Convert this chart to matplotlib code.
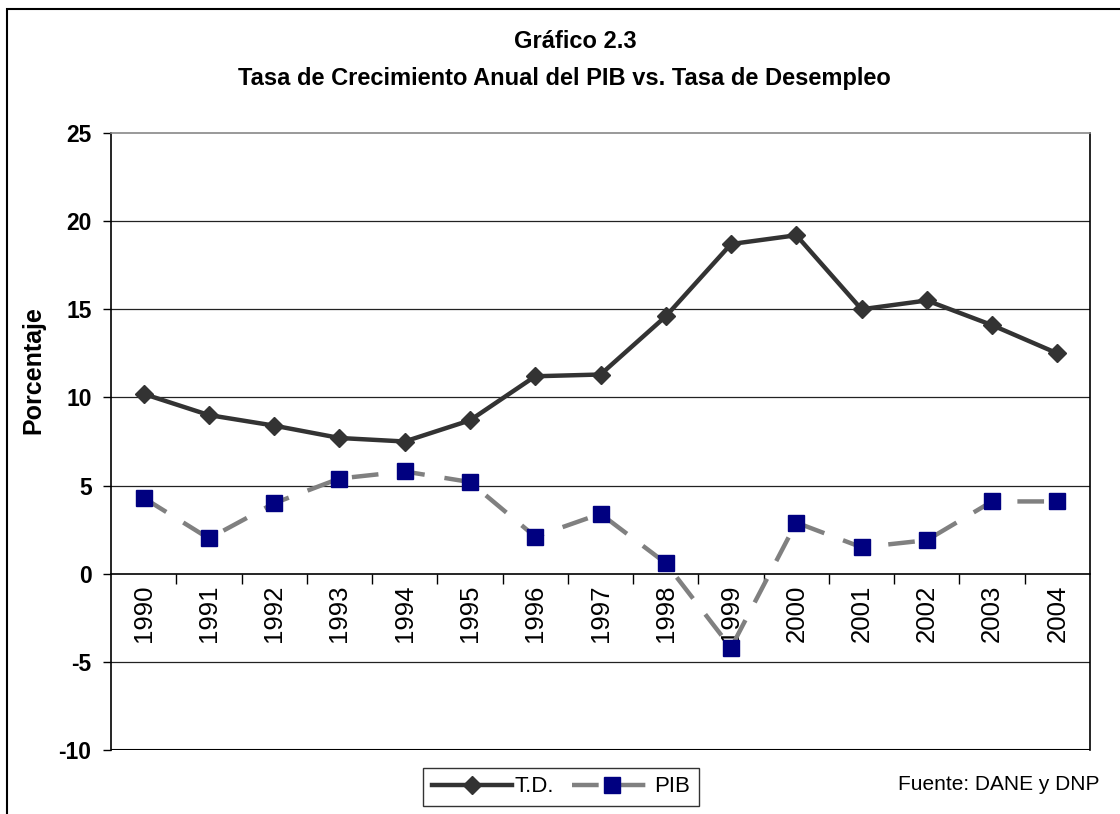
import matplotlib.pyplot as plt
import matplotlib.patches as patches
from matplotlib.ticker import FixedLocator

plt.rcParams['font.family'] = ['Liberation Sans', 'DejaVu Sans']

years = ['1990', '1991', '1992', '1993', '1994', '1995', '1996', '1997',
         '1998', '1999', '2000', '2001', '2002', '2003', '2004']
td = [10.2, 9.0, 8.4, 7.7, 7.5, 8.7, 11.2, 11.3, 14.6, 18.7, 19.2, 15.0, 15.5, 14.1, 12.5]
pib = [4.3, 2.0, 4.0, 5.4, 5.8, 5.2, 2.1, 3.4, 0.6, -4.2, 2.9, 1.5, 1.9, 4.1, 4.1]
y_ticks = [-10, -5, 0, 5, 10, 15, 20, 25]

W, H = 1120, 814
fig = plt.figure(figsize=(W / 100, H / 100), dpi=100)

# plot area in pixels: left 111, right 1090, top 133, bottom 750
ax = fig.add_axes([111 / W, 1 - 750 / H, 979 / W, 617 / H])
x = list(range(len(years)))

for v in [-5, 5, 10, 15, 20]:
    ax.axhline(v, color='#222222', lw=0.9, zorder=1)

ax.plot(x, pib, color='#808080', lw=3.2, ls=(0, (6, 4.5)), marker='s',
        markersize=11, markerfacecolor='#000080', markeredgecolor='#000080',
        label='PIB', zorder=3)
ax.plot(x, td, color='#333333', lw=3.2, marker='D', markersize=9,
        markerfacecolor='#333333', markeredgecolor='#333333', label='T.D.', zorder=4)

ax.set_xlim(-0.5, len(years) - 0.5)
ax.set_ylim(-10, 25)

ax.spines['top'].set_color('#888888')
ax.spines['top'].set_linewidth(1.2)
ax.spines['right'].set_linewidth(1.2)
ax.spines['left'].set_linewidth(1.2)
ax.spines['bottom'].set_position(('data', 0))
ax.spines['bottom'].set_linewidth(1.2)
ax.axhline(-10, color='black', lw=1.5, zorder=2)

ax.set_yticks(y_ticks)
ax.set_yticklabels([str(t) for t in y_ticks], fontsize=16.5, fontweight='bold')
ax.tick_params(axis='y', direction='out', length=6, width=1, pad=8)

ax.set_xticks(x)
ax.set_xticklabels(years, rotation=90, fontsize=18.5, va='top')
ax.tick_params(axis='x', which='major', length=0, pad=8)
ax.xaxis.set_minor_locator(FixedLocator([i + 0.5 for i in range(len(years) - 1)]))
ax.tick_params(axis='x', which='minor', direction='out', length=7, width=1)

fig.text(33 / W, 1 - 370 / H, 'Porcentaje', rotation=90, fontsize=18,
         fontweight='bold', ha='center', va='center')
fig.text(575 / W, 1 - 42 / H, 'Gráfico 2.3', fontsize=17, fontweight='bold',
         ha='center', va='center')
fig.text(564 / W, 1 - 78 / H, 'Tasa de Crecimiento Anual del PIB vs. Tasa de Desempleo',
         fontsize=17, fontweight='bold', ha='center', va='center')
fig.text(1100 / W, 1 - 784 / H, 'Fuente: DANE y DNP', fontsize=15,
         ha='right', va='center')

h, l = ax.get_legend_handles_labels()
leg = fig.legend(h[::-1], l[::-1], loc='center', bbox_to_anchor=(561 / W, 1 - 787 / H),
                 ncol=2, fontsize=16, frameon=True, fancybox=False, shadow=False,
                 handlelength=3.6, columnspacing=0.8, handletextpad=0.1,
                 borderpad=0.4, borderaxespad=0)
leg.get_frame().set_edgecolor('black')
leg.get_frame().set_linewidth(1)

# outer chart border (runs off the right and bottom edges)
fig.patches.append(patches.Rectangle((7 / W, -0.2), 1.2, 1 - 9 / H + 0.2,
                                     transform=fig.transFigure, fill=False,
                                     edgecolor='black', lw=1.5))

fig.savefig('out.png', dpi=100)
